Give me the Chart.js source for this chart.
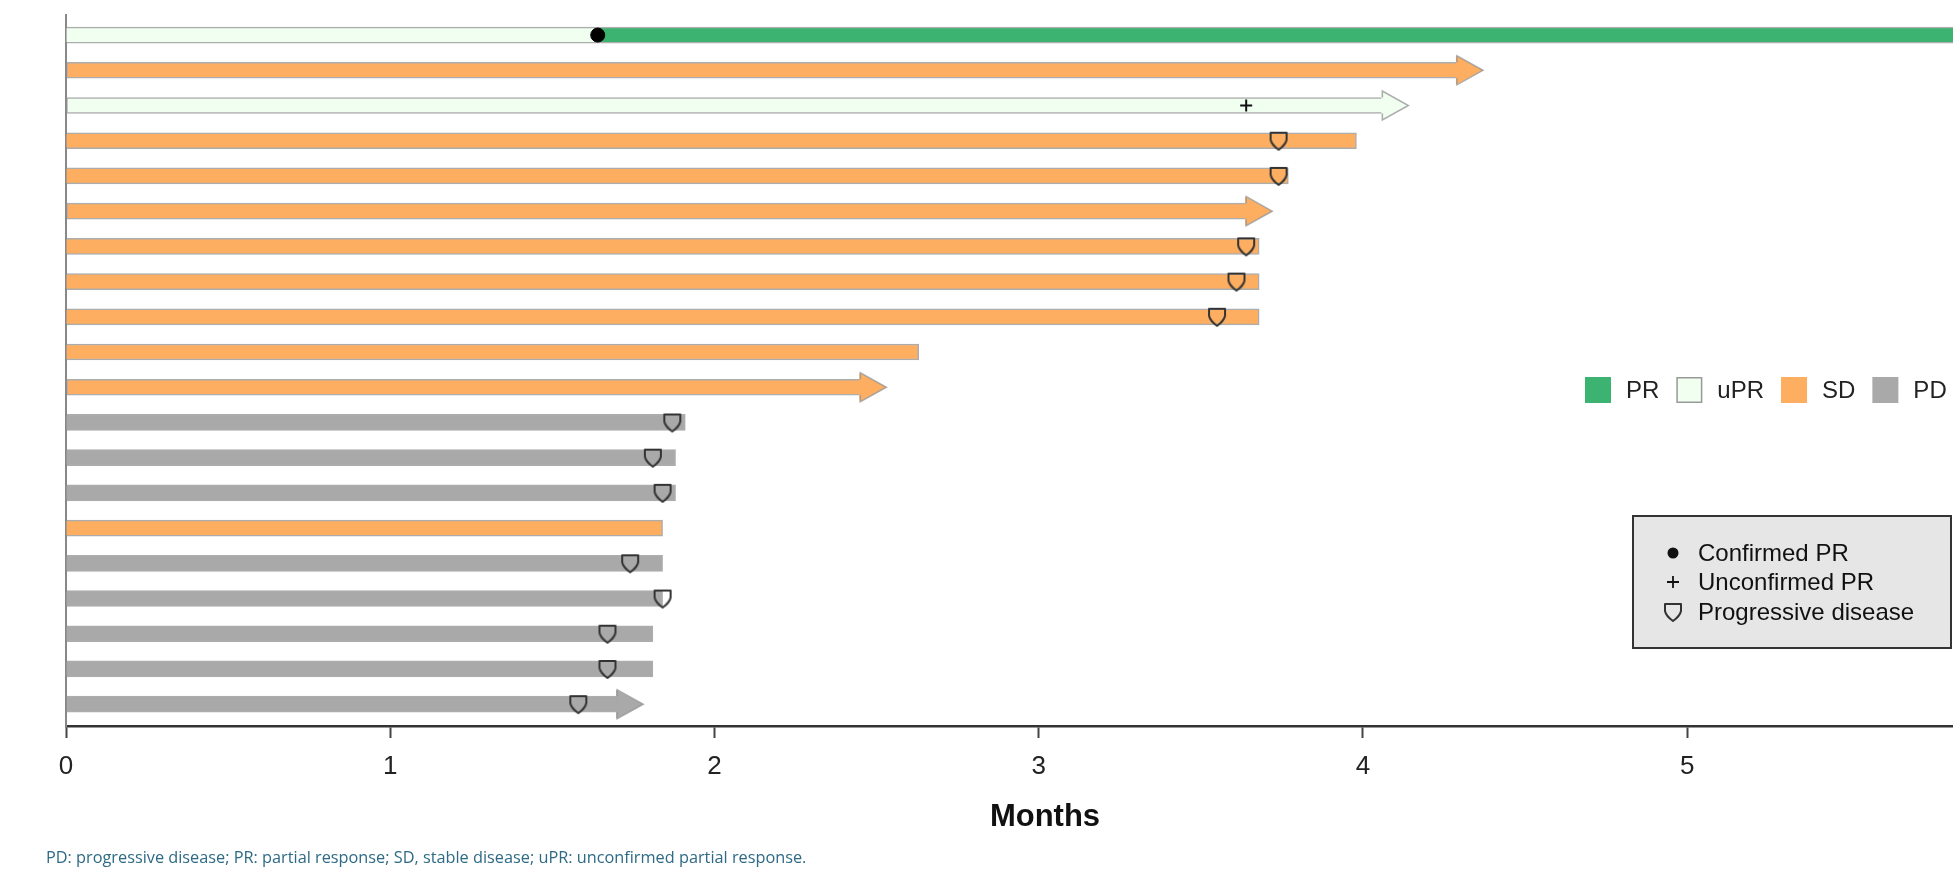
<!DOCTYPE html>
<html>
<head>
<meta charset="utf-8">
<script src="https://cdn.jsdelivr.net/npm/chart.js@4.4.1/dist/chart.umd.min.js"></script>
<style>
  body { margin: 0; background: #fff; }
  #wrap { position: relative; width: 1953px; height: 871px; overflow: hidden; }
  #swimmer { position: absolute; left: 0; top: 0; }
  #note { position: absolute; left: 46px; top: 846px; font: 16.3px "Open Sans", sans-serif; color: #2e6a85; white-space: nowrap; }
</style>
</head>
<body>
<div id="wrap">
  <canvas id="swimmer" width="1953" height="871"></canvas>
  <div id="note">PD: progressive disease; PR: partial response; SD, stable disease; uPR: unconfirmed partial response.</div>
</div>
<script>
// one row per patient, top to bottom
const patients = ['1', '2', '3', '4', '5', '6', '7', '8', '9', '10', '11', '12', '13', '14', '15', '16', '17', '18', '19', '20'];
const bestResponse = ['uPR', 'SD', 'uPR', 'SD', 'SD', 'SD', 'SD', 'SD', 'SD', 'SD', 'SD', 'PD', 'PD', 'PD', 'SD', 'PD', 'PD', 'PD', 'PD', 'PD'];
const monthsOnStudy = [6.3, 4.29, 4.06, 3.98, 3.77, 3.64, 3.68, 3.68, 3.68, 2.63, 2.45, 1.91, 1.88, 1.88, 1.84, 1.84, 1.84, 1.81, 1.81, 1.70];
const ongoing = [false, true, true, false, false, true, false, false, false, false, true, false, false, false, false, false, false, false, false, true];

// events
const confirmedRows = ['1'];
const confirmedMonths = [1.64];
const unconfirmedRows = ['3'];
const unconfirmedMonths = [3.64];
const pdRows = ['4', '5', '7', '8', '9', '12', '13', '14', '16', '17', '18', '19', '20'];
const pdMonths = [3.74, 3.74, 3.64, 3.61, 3.55, 1.87, 1.81, 1.84, 1.74, 1.84, 1.67, 1.67, 1.58];

const monthTicks = [0, 1, 2, 3, 4, 5];
const xMax = 5.82;

const colors = { PR: '#3cb371', uPR: '#f0fff0', SD: '#fdae61', PD: '#a9a9a9' };
const FONT = '"Liberation Sans", Arial, sans-serif';

// floating bars, one dataset per response type
function segments(type) {
    return patients.map((p, i) => {
        const k = confirmedRows.indexOf(p);
        if (k >= 0) {
            if (type === 'uPR') return [0, confirmedMonths[k]];
            if (type === 'PR') return [confirmedMonths[k], monthsOnStudy[i]];
            return null;
        }
        return bestResponse[i] === type ? [0, monthsOnStudy[i]] : null;
    });
}

function barSet(type) {
    return {
        type: 'bar',
        label: type,
        indexAxis: 'y',
        data: segments(type),
        backgroundColor: colors[type],
        borderColor: 'rgba(145,145,145,0.75)',
        borderWidth: 1.5,
        borderSkipped: ctx => ongoing[ctx.dataIndex] ? 'end' : 'start',
        barThickness: 16,
        grouped: false,
        order: 2
    };
}

function points(rows, months) {
    return rows.map((r, i) => ({ x: months[i], y: Number(r) }));
}

// shield marker for progressive disease
function shield() {
    const c = document.createElement('canvas');
    c.width = 22; c.height = 24;
    const g = c.getContext('2d');
    g.strokeStyle = '#333';
    g.lineWidth = 2;
    g.lineJoin = 'round';
    g.beginPath();
    g.moveTo(3, 4); g.lineTo(19, 4); g.lineTo(19, 11);
    g.quadraticCurveTo(18, 16, 11, 21);
    g.quadraticCurveTo(4, 16, 3, 11);
    g.closePath();
    g.stroke();
    return c;
}
const shieldImg = shield();

const arrowHeads = {
    id: 'arrowHeads',
    afterDatasetDraw(chart, args) {
        if (args.meta.type !== 'bar') return;
        const ctx = chart.ctx;
        const ds = chart.data.datasets[args.index];
        ctx.save();
        args.meta.data.forEach((bar, i) => {
            const v = ds.data[i];
            if (!v || !ongoing[i]) return;
            const x = bar.x, y = bar.y;
            ctx.beginPath();
            ctx.moveTo(x - 1, y - 14.5);
            ctx.lineTo(x + 26, y);
            ctx.lineTo(x - 1, y + 14.5);
            ctx.closePath();
            ctx.fillStyle = ds.backgroundColor;
            ctx.fill();
            ctx.beginPath();
            ctx.moveTo(x, y - 8);
            ctx.lineTo(x, y - 14.5);
            ctx.lineTo(x + 26, y);
            ctx.lineTo(x, y + 14.5);
            ctx.lineTo(x, y + 8);
            ctx.strokeStyle = 'rgba(145,145,145,0.75)';
            ctx.lineWidth = 1.5;
            ctx.stroke();
        });
        ctx.restore();
    }
};

const legends = {
    id: 'legends',
    afterDraw(chart) {
        const ctx = chart.ctx;
        ctx.save();
        // response colour key
        ctx.font = '24px ' + FONT;
        ctx.textBaseline = 'middle';
        let x = 1585;
        const y = 390;
        ['PR', 'uPR', 'SD', 'PD'].forEach(t => {
            ctx.fillStyle = colors[t];
            ctx.fillRect(x, y - 13, 26, 26);
            if (t === 'uPR') {
                ctx.strokeStyle = '#999';
                ctx.lineWidth = 1.5;
                ctx.strokeRect(x + 0.75, y - 12.25, 24.5, 24.5);
            }
            ctx.fillStyle = '#222';
            ctx.fillText(t, x + 41, y + 1);
            x += 41 + ctx.measureText(t).width + 17;
        });

        // event symbols box
        ctx.fillStyle = '#e6e6e6';
        ctx.fillRect(1633, 516, 318, 132);
        ctx.strokeStyle = '#333';
        ctx.lineWidth = 2;
        ctx.strokeRect(1633, 516, 318, 132);
        const items = ['Confirmed PR', 'Unconfirmed PR', 'Progressive disease'];
        const ys = [553, 582, 612];
        ctx.fillStyle = '#111';
        items.forEach((t, i) => ctx.fillText(t, 1698, ys[i] + 1));
        ctx.beginPath();
        ctx.arc(1673, ys[0], 5.5, 0, Math.PI * 2);
        ctx.fill();
        ctx.strokeStyle = '#111';
        ctx.lineWidth = 1.8;
        ctx.beginPath();
        ctx.moveTo(1667, ys[1]); ctx.lineTo(1679, ys[1]);
        ctx.moveTo(1673, ys[1] - 6); ctx.lineTo(1673, ys[1] + 6);
        ctx.stroke();
        ctx.drawImage(shieldImg, 1662, ys[2] - 12);

        // axis title
        ctx.font = 'bold 31px ' + FONT;
        ctx.textAlign = 'center';
        ctx.fillStyle = '#111';
        ctx.fillText('Months', 1045, 817);
        ctx.restore();
    }
};

new Chart(document.getElementById('swimmer'), {
    type: 'bar',
    data: {
        labels: patients,
        datasets: [
            barSet('uPR'),
            barSet('PR'),
            barSet('SD'),
            barSet('PD'),
            {
                type: 'scatter',
                label: 'Confirmed PR',
                data: points(confirmedRows, confirmedMonths),
                pointStyle: 'circle',
                pointRadius: 7,
                backgroundColor: '#000',
                borderColor: '#000',
                order: 1
            },
            {
                type: 'scatter',
                label: 'Unconfirmed PR',
                data: points(unconfirmedRows, unconfirmedMonths),
                pointStyle: 'cross',
                pointRadius: 6,
                borderWidth: 2,
                borderColor: '#111',
                order: 1
            },
            {
                type: 'scatter',
                label: 'Progressive disease',
                data: points(pdRows, pdMonths),
                pointStyle: shieldImg,
                order: 1
            }
        ]
    },
    options: {
        responsive: false,
        animation: false,
        layout: { autoPadding: false, padding: { left: 66, top: 15, right: 0, bottom: 85 } },
        plugins: {
            legend: { display: false },
            tooltip: { enabled: false }
        },
        scales: {
            x: {
                type: 'linear',
                min: 0,
                max: xMax,
                offset: false,
                afterBuildTicks: scale => {
                    scale.ticks = monthTicks.map(v => ({ value: v }));
                },
                afterFit: scale => {
                    scale.paddingLeft = 0;
                    scale.paddingRight = 0;
                    scale.height = 60;
                },
                border: { display: true, color: '#333', width: 2.5 },
                grid: { offset: false, drawOnChartArea: false, drawTicks: true, tickLength: 12, tickColor: '#444', tickWidth: 2 },
                ticks: {
                    color: '#222',
                    font: { size: 26, family: FONT },
                    padding: 13,
                    maxRotation: 0
                }
            },
            y: {
                type: 'linear',
                reverse: true,
                min: 0.43,
                max: 20.62,
                offset: false,
                border: { display: true, color: '#888', width: 2 },
                grid: { display: false, drawTicks: false },
                ticks: { display: false }
            }
        }
    },
    plugins: [arrowHeads, legends]
});
</script>
</body>
</html>
